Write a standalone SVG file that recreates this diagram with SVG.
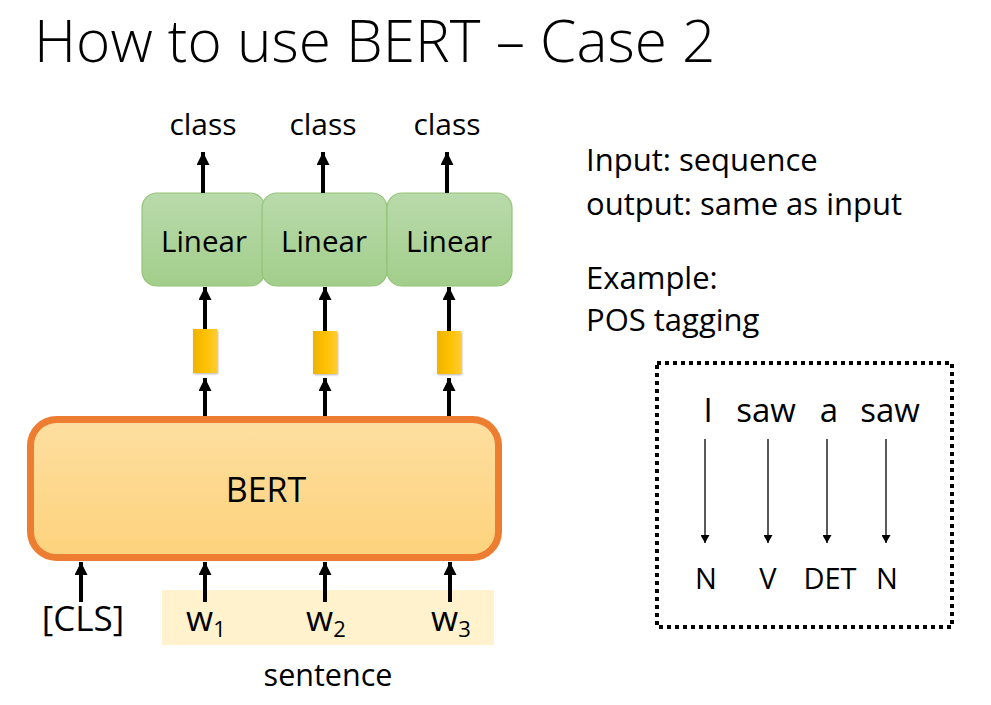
<svg xmlns="http://www.w3.org/2000/svg" width="991" height="705" viewBox="0 0 991 705">
<defs>
<linearGradient id="gGreen" x1="0" y1="0" x2="0" y2="1"><stop offset="0" stop-color="#b9daab"/><stop offset="1" stop-color="#a2ce8b"/></linearGradient>
<linearGradient id="gOrange" x1="0" y1="0" x2="0" y2="1"><stop offset="0" stop-color="#fedfa0"/><stop offset="1" stop-color="#fdd27c"/></linearGradient>
<linearGradient id="gYellow" x1="0" y1="0" x2="1" y2="0"><stop offset="0" stop-color="#efb300"/><stop offset="0.5" stop-color="#ffc000"/><stop offset="1" stop-color="#ffcc33"/></linearGradient>
<filter id="sh" x="-30%" y="-20%" width="160%" height="140%"><feDropShadow dx="1" dy="1" stdDeviation="1" flood-color="#000" flood-opacity="0.3"/></filter>
<marker id="ah" viewBox="0 0 13 13" refX="13" refY="6.5" markerWidth="13" markerHeight="13" markerUnits="userSpaceOnUse" orient="auto"><path d="M0,0 L13,6.5 L0,13 z" fill="#000"/></marker>
<marker id="ahs" viewBox="0 0 8 9" refX="8" refY="4.5" markerWidth="8" markerHeight="9" markerUnits="userSpaceOnUse" orient="auto"><path d="M0,0 L8,4.5 L0,9 z" fill="#000"/></marker>
</defs>
<style>
text{font-family:"Open Sans","Noto Sans","Liberation Sans",sans-serif;fill:#000}
.lin{fill:url(#gGreen);stroke:#93c376;stroke-width:1.2}
.ybar{fill:url(#gYellow);filter:url(#sh)}
.thick{stroke:#000;stroke-width:4;fill:none;marker-end:url(#ah)}
.thin{stroke:#000;stroke-width:1.3;fill:none;marker-end:url(#ahs)}
.c{text-anchor:middle}
</style>
<rect width="991" height="705" fill="#fff"/>
<text x="34" y="62" font-size="58.5" font-weight="300">How to use BERT – Case 2</text>

<g id="sentence-bg"><rect x="162" y="590" width="332" height="55" fill="#fff2cc"/></g>

<g id="bert">
<rect x="30.5" y="419.5" width="468" height="138" rx="26" fill="url(#gOrange)" stroke="#ed7d31" stroke-width="7"/>
<text class="c" x="266" y="502" font-size="34">BERT</text>
</g>

<g id="linear1"><rect class="lin" x="142" y="193" width="123" height="93" rx="15"/><text class="c" x="204" y="252" font-size="29.5">Linear</text></g>
<g id="linear2"><rect class="lin" x="262" y="193" width="125" height="93" rx="15"/><text class="c" x="324" y="252" font-size="29.5">Linear</text></g>
<g id="linear3"><rect class="lin" x="387" y="193" width="125" height="93" rx="15"/><text class="c" x="449" y="252" font-size="29.5">Linear</text></g>

<g id="vec1"><rect class="ybar" x="193" y="329" width="24" height="44"/></g>
<g id="vec2"><rect class="ybar" x="313" y="331" width="24" height="43"/></g>
<g id="vec3"><rect class="ybar" x="437" y="331" width="24" height="43"/></g>

<g id="labels">
<text class="c" x="203" y="135" font-size="30">class</text>
<text class="c" x="323" y="135" font-size="30">class</text>
<text class="c" x="447" y="135" font-size="30">class</text>
<text class="c" x="83" y="631" font-size="35">[CLS]</text>
<text x="186" y="631" font-size="35">w<tspan font-size="22" dy="6">1</tspan></text>
<text x="306" y="631" font-size="35">w<tspan font-size="22" dy="6">2</tspan></text>
<text x="431" y="631" font-size="35">w<tspan font-size="22" dy="6">3</tspan></text>
<text class="c" x="328" y="686" font-size="30.5">sentence</text>
<text x="586" y="171" font-size="31">Input: sequence</text>
<text x="586" y="215" font-size="31">output: same as input</text>
<text x="586" y="289" font-size="31">Example:</text>
<text x="586" y="331" font-size="31">POS tagging</text>
</g>

<g id="pos-example">
<rect x="657" y="363" width="295" height="264" fill="none" stroke="#000" stroke-width="4" stroke-dasharray="4 4"/>
<text class="c" x="708" y="422" font-size="33">I</text>
<text class="c" x="766" y="422" font-size="33">saw</text>
<text class="c" x="829" y="422" font-size="33">a</text>
<text class="c" x="890" y="422" font-size="33">saw</text>
<text class="c" x="706" y="589" font-size="29">N</text>
<text class="c" x="768" y="589" font-size="29">V</text>
<text class="c" x="830" y="589" font-size="29">DET</text>
<text class="c" x="887" y="589" font-size="29">N</text>
</g>

<g id="connectors">
<line class="thick" x1="203" y1="193" x2="203" y2="152"/>
<line class="thick" x1="323" y1="193" x2="323" y2="152"/>
<line class="thick" x1="447" y1="193" x2="447" y2="152"/>
<line class="thick" x1="205" y1="329" x2="205" y2="287"/>
<line class="thick" x1="325" y1="331" x2="325" y2="287"/>
<line class="thick" x1="449" y1="331" x2="449" y2="287"/>
<line class="thick" x1="205" y1="416" x2="205" y2="378"/>
<line class="thick" x1="325" y1="416" x2="325" y2="378"/>
<line class="thick" x1="449" y1="416" x2="449" y2="378"/>
<line class="thick" x1="81" y1="602" x2="81" y2="562"/>
<line class="thick" x1="205" y1="602" x2="205" y2="562"/>
<line class="thick" x1="325" y1="602" x2="325" y2="562"/>
<line class="thick" x1="450" y1="602" x2="450" y2="562"/>
<line class="thin" x1="705" y1="439" x2="705" y2="543"/>
<line class="thin" x1="768" y1="439" x2="768" y2="543"/>
<line class="thin" x1="827" y1="439" x2="827" y2="543"/>
<line class="thin" x1="886" y1="439" x2="886" y2="543"/>
</g>
</svg>
